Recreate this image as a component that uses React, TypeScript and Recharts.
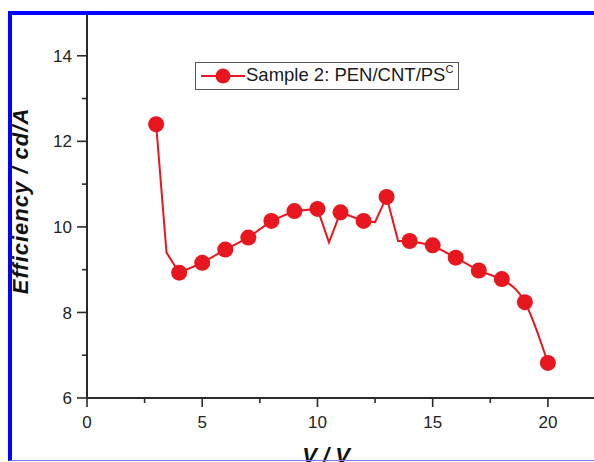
import React from 'react';
import { LineChart, Line, XAxis, YAxis, Legend, Label } from 'recharts';

// Measured points (V, cd/A)
const voltage = [3, 4, 5, 6, 7, 8, 9, 10, 11, 12, 13, 14, 15, 16, 17, 18, 19, 20];
const efficiency = [12.4, 8.93, 9.16, 9.47, 9.75, 10.14, 10.37, 10.42, 10.34, 10.14, 10.7, 9.67, 9.57, 9.28, 8.98, 8.78, 8.24, 6.82];
const bendVoltage = [3.45, 10.5, 12.5, 13.5];
const bendEfficiency = [9.4, 9.64, 10.11, 9.67];

const xTicks = [0, 2.5, 5, 7.5, 10, 12.5, 15, 17.5, 20];
const xLabeled = [0, 5, 10, 15, 20];
const yTicks = [6, 7, 8, 9, 10, 11, 12, 13, 14];
const yLabeled = [6, 8, 10, 12, 14];

const seriesName = 'Sample 2: PEN/CNT/PS';
const seriesSup = 'C';
const xTitle = 'V / V';
const yTitle = 'Efficiency / cd/A';

const RED = '#e8161e';
const AXIS = '#2a2a2a';
const FONT = '"Liberation Sans", Arial, Helvetica, sans-serif';

type Row = { v: number; eff?: number; curve?: number; tail?: number };

const rows: Row[] = [];
voltage.forEach((v, i) => {
  const r: Row = { v, eff: efficiency[i] };
  if (v <= 18) r.curve = efficiency[i];
  if (v >= 18) r.tail = efficiency[i];
  rows.push(r);
});
bendVoltage.forEach((v, i) => rows.push({ v, curve: bendEfficiency[i] }));
rows.sort((a, b) => a.v - b.v);

const YTick = (props: any) => {
  const { x, y, payload } = props;
  const major = yLabeled.includes(payload.value);
  return (
    <g>
      <line x1={x - (major ? 10 : 5)} x2={x} y1={y} y2={y} stroke={AXIS} strokeWidth={1.6} />
      {major && (
        <text x={x - 15} y={y} dy="0.36em" textAnchor="end" fontFamily={FONT} fontSize={17} fill="#222">
          {payload.value}
        </text>
      )}
    </g>
  );
};

const XTick = (props: any) => {
  const { x, y, payload } = props;
  const major = xLabeled.includes(payload.value);
  return (
    <g>
      <line x1={x} x2={x} y1={y} y2={y + (major ? 9 : 5)} stroke={AXIS} strokeWidth={1.6} />
      {major && (
        <text x={x} y={y + 30} textAnchor="middle" fontFamily={FONT} fontSize={17} fill="#222">
          {payload.value}
        </text>
      )}
    </g>
  );
};

const TopTick = (props: any) => {
  const { x, y, payload } = props;
  const major = xLabeled.includes(payload.value);
  return <line x1={x} x2={x} y1={y} y2={y + (major ? 8 : 5)} stroke={AXIS} strokeWidth={1.6} />;
};

const LegendBox = () => (
  <div
    style={{
      border: '1px solid #555',
      width: 264,
      height: 28,
      boxSizing: 'border-box',
      display: 'flex',
      alignItems: 'center',
      fontFamily: FONT,
      fontSize: 18.5,
      color: '#1a1a1a',
      whiteSpace: 'nowrap',
      background: '#fff',
    }}
  >
    <svg width={50} height={22} style={{ display: 'block', flex: 'none' }}>
      <line x1={5} x2={49} y1={11} y2={11} stroke={RED} strokeWidth={2} />
      <circle cx={27} cy={11} r={7.5} fill={RED} />
    </svg>
    <span style={{ lineHeight: '20px' }}>
      {seriesName}
      <span style={{ fontSize: 11, position: 'relative', top: -8 }}>{seriesSup}</span>
    </span>
  </div>
);

export default function App() {
  return (
    <div style={{ position: 'absolute', left: 0, top: 0, width: 594, height: 462, overflow: 'hidden', background: '#fff' }}>
      <div style={{ position: 'absolute', left: 0, top: 0 }}>
        <LineChart width={594} height={462} data={rows} margin={{ top: 13, right: 0, bottom: 0, left: 0 }}>
          <XAxis
            dataKey="v"
            type="number"
            domain={[0, 22]}
            ticks={xTicks}
            interval={0}
            height={64}
            tickSize={0}
            tickMargin={0}
            tickLine={false}
            axisLine={{ stroke: AXIS, strokeWidth: 2 }}
            tick={<XTick />}
            allowDataOverflow
          >
            <Label
              content={() => (
                <text x={326} y={463} textAnchor="middle" fontFamily={FONT} fontWeight="bold" fontStyle="italic" fontSize={22} fill="#111">
                  {xTitle}
                </text>
              )}
            />
          </XAxis>
          <XAxis
            xAxisId="top"
            orientation="top"
            dataKey="v"
            type="number"
            domain={[0, 22]}
            ticks={xTicks}
            interval={0}
            height={0}
            tickSize={0}
            tickMargin={0}
            tickLine={false}
            axisLine={false}
            tick={<TopTick />}
            allowDataOverflow
          />
          <YAxis
            type="number"
            domain={[6, 15]}
            ticks={yTicks}
            interval={0}
            width={87}
            tickSize={0}
            tickMargin={0}
            tickLine={false}
            axisLine={{ stroke: AXIS, strokeWidth: 2 }}
            tick={<YTick />}
            allowDataOverflow
          >
            <Label
              content={() => (
                <text
                  x={28}
                  y={201}
                  transform="rotate(-90, 28, 201)"
                  textAnchor="middle"
                  fontFamily={FONT}
                  fontWeight="bold"
                  fontStyle="italic"
                  fontSize={22}
                  letterSpacing={1}
                  fill="#111"
                >
                  {yTitle}
                </text>
              )}
            />
          </YAxis>
          <Legend
            layout="vertical"
            align="center"
            verticalAlign="middle"
            wrapperStyle={{ left: 195, top: 62, width: 264, height: 28 }}
            content={<LegendBox />}
          />
          <Line
            dataKey="curve"
            type="linear"
            stroke={RED}
            strokeWidth={2}
            dot={false}
            connectNulls
            isAnimationActive={false}
            legendType="none"
          />
          <Line
            dataKey="tail"
            type="monotone"
            stroke={RED}
            strokeWidth={2}
            dot={false}
            connectNulls
            isAnimationActive={false}
            legendType="none"
          />
          <Line
            dataKey="eff"
            name={seriesName}
            type="linear"
            stroke="none"
            strokeWidth={0}
            dot={{ r: 8, fill: RED, stroke: RED, strokeWidth: 0 }}
            activeDot={false}
            connectNulls
            isAnimationActive={false}
          />
        </LineChart>
      </div>
      <div
        style={{
          position: 'absolute',
          left: 8,
          top: 11,
          width: 620,
          height: 450,
          boxSizing: 'border-box',
          borderLeft: '4px solid #0000ff',
          borderTop: '4px solid #0000ff',
          borderBottom: '1px solid #7878f0',
          pointerEvents: 'none',
        }}
      />
    </div>
  );
}
